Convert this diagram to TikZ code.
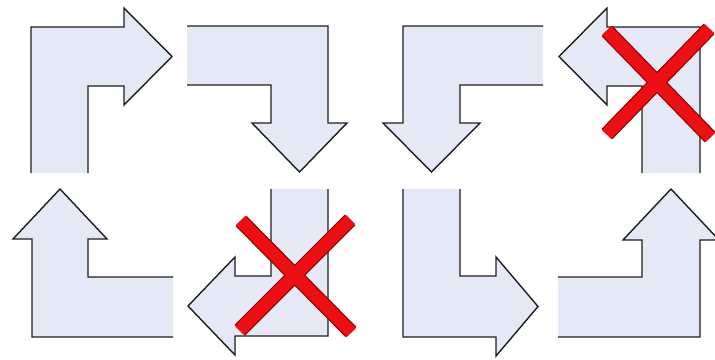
\documentclass[tikz,border=0pt]{standalone}
\definecolor{arrfill}{RGB}{229,233,245}
\definecolor{arredge}{RGB}{30,30,30}
\definecolor{xred}{RGB}{236,16,20}
\definecolor{xdark}{RGB}{150,0,0}
\begin{document}
\begin{tikzpicture}[x=1pt,y=-1pt,
  arrfillst/.style={fill=arrfill,draw=none},
  arredgest/.style={draw=arredge,line width=1.4pt,line join=miter},
  xunder/.style={draw=xdark,line width=15pt,line cap=butt},
  xover/.style={draw=xred,line width=12.5pt,line cap=butt}]
\useasboundingbox (0,0) rectangle (715,359);
\fill[white] (0,0) rectangle (715,359);
% Arrow 1: up then right
\fill[arrfillst] (31,173) -- (31,27) -- (124,27) -- (124,8) -- (172,56.5) -- (124,105) -- (124,86) -- (88,86) -- (88,173) -- cycle;
\draw[arredgest] (31,173) -- (31,27) -- (124,27) -- (124,8) -- (172,56.5) -- (124,105) -- (124,86) -- (88,86) -- (88,173);
% Arrow 2: right then down
\fill[arrfillst] (187,26) -- (328,26) -- (328,123) -- (347,123) -- (299.5,172) -- (252,123) -- (271,123) -- (271,85) -- (187,85) -- cycle;
\draw[arredgest] (187,26) -- (328,26) -- (328,123) -- (347,123) -- (299.5,172) -- (252,123) -- (271,123) -- (271,85) -- (187,85);
% Arrow 3: left then down
\fill[arrfillst] (543,26) -- (403,26) -- (403,123) -- (383,123) -- (431.5,172) -- (480,123) -- (460,123) -- (460,85) -- (543,85) -- cycle;
\draw[arredgest] (543,26) -- (403,26) -- (403,123) -- (383,123) -- (431.5,172) -- (480,123) -- (460,123) -- (460,85) -- (543,85);
% Arrow 4: up then left
\fill[arrfillst] (642,173) -- (642,86) -- (607,86) -- (607,105) -- (559,56.5) -- (607,8) -- (607,27) -- (700,27) -- (700,173) -- cycle;
\draw[arredgest] (642,173) -- (642,86) -- (607,86) -- (607,105) -- (559,56.5) -- (607,8) -- (607,27) -- (700,27) -- (700,173);
% Arrow 5: left then up
\fill[arrfillst] (173,277) -- (88,277) -- (88,239) -- (107,239) -- (60,189) -- (13,239) -- (32,239) -- (32,337) -- (173,337) -- cycle;
\draw[arredgest] (173,277) -- (88,277) -- (88,239) -- (107,239) -- (60,189) -- (13,239) -- (32,239) -- (32,337) -- (173,337);
% Arrow 6: down then left
\fill[arrfillst] (271,189) -- (271,276) -- (235,276) -- (235,257) -- (188,306) -- (235,355) -- (235,336) -- (328,336) -- (328,189) -- cycle;
\draw[arredgest] (271,189) -- (271,276) -- (235,276) -- (235,257) -- (188,306) -- (235,355) -- (235,336) -- (328,336) -- (328,189);
% Arrow 7: down then right
\fill[arrfillst] (403,189) -- (403,337) -- (496,337) -- (496,356) -- (538,306.5) -- (496,257) -- (496,276) -- (460,276) -- (460,189) -- cycle;
\draw[arredgest] (403,189) -- (403,337) -- (496,337) -- (496,356) -- (538,306.5) -- (496,257) -- (496,276) -- (460,276) -- (460,189);
% Arrow 8: right then up
\fill[arrfillst] (558,277) -- (642,277) -- (642,240) -- (623,240) -- (671,189) -- (719,240) -- (700,240) -- (700,337) -- (558,337) -- cycle;
\draw[arredgest] (558,277) -- (642,277) -- (642,240) -- (623,240) -- (671,189) -- (719,240) -- (700,240) -- (700,337) -- (558,337);
% Red crosses
\draw[xunder] (607,31) -- (710,137);
\draw[xunder] (709,29) -- (607,134);
\draw[xover] (606.5,30.5) -- (710.5,137.5);
\draw[xover] (709.5,28.5) -- (606.5,134.5);
\draw[xunder] (241,221) -- (351,332);
\draw[xunder] (350,220) -- (240,330);
\draw[xover] (240.5,220.5) -- (351.5,332.5);
\draw[xover] (350.5,219.5) -- (239.5,330.5);
\end{tikzpicture}
\end{document}
